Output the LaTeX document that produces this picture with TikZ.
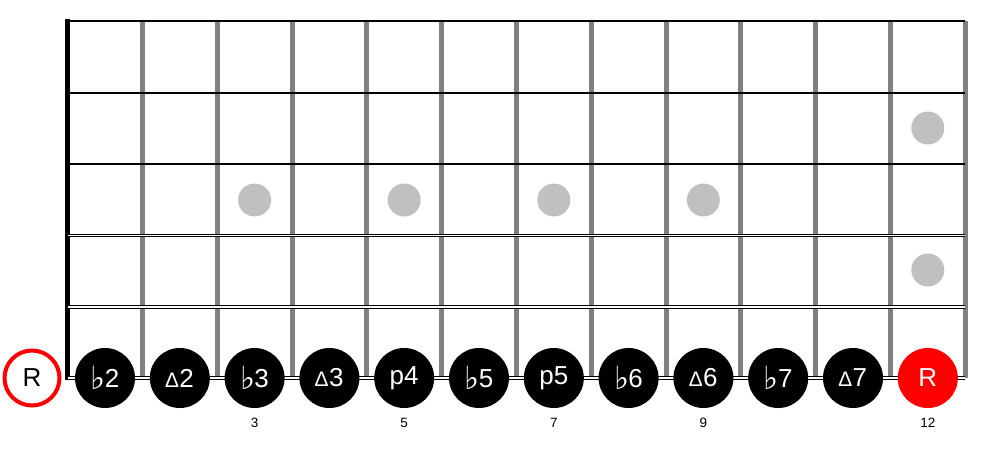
\documentclass[tikz,border=0pt]{standalone}
\usepackage{fontspec}
\setmainfont{Liberation Sans}
\newfontfamily\symfont{DejaVu Sans}
\definecolor{fretgrey}{HTML}{808080}
\definecolor{dotgrey}{HTML}{C0C0C0}
\definecolor{rootred}{HTML}{FF0000}
\tikzset{
  note/.style={circle,fill=black,text=white,minimum size=60pt,inner sep=0pt,font=\fontsize{26}{26}\selectfont},
  octave/.style={note,fill=rootred},
  openroot/.style={circle,draw=rootred,line width=4pt,fill=white,minimum size=55pt,inner sep=0pt,font=\fontsize{26}{26}\selectfont},
  inlay/.style={circle,fill=dotgrey,minimum size=33pt,inner sep=0pt},
  fretnum/.style={font=\fontsize{13.5}{13.5}\selectfont},
  fretwire/.style={fretgrey,line width=5pt},
  plainstring/.style={black,line width=1.2pt},
  woundstring/.style={black,double=white,line width=1pt,double distance=1.6pt}
}
\newcommand{\fl}{\raisebox{-2pt}{\symfont\fontsize{32}{32}\selectfont ♭}\hspace{-1pt}}
\newcommand{\mj}{{\fontsize{21}{21}\selectfont ∆}\hspace{1pt}}
\begin{document}
\begin{tikzpicture}[x=1pt,y=-1pt,line cap=butt]
\useasboundingbox (0,0) rectangle (985,452);
% frets
\foreach \i in {0,...,11}
  \draw[fretwire] ({142.5+74.8*\i},21) -- ({142.5+74.8*\i},378);
% nut
\draw[black,line width=5pt] (67.5,19) -- (67.5,380);
% strings
\draw[plainstring] (67.5,21) -- (965,21);
\draw[plainstring] (67.5,93) -- (965,93);
\draw[plainstring] (67.5,164) -- (965,164);
\draw[woundstring] (67.5,235.5) -- (965,235.5);
\draw[woundstring] (67.5,307) -- (965,307);
\draw[woundstring] (67.5,378) -- (965,378);
% inlays
\node[inlay] (dot3) at (254.6,200) {};
\node[inlay] (dot5) at (404.2,200) {};
\node[inlay] (dot7) at (553.8,200) {};
\node[inlay] (dot9) at (703.4,200) {};
\node[inlay] (dot12a) at (927.8,128) {};
\node[inlay] (dot12b) at (927.8,270) {};
% notes
\node[openroot] (root) at (32,378) {R};
\node[note] (flat2) at (105,378) {\fl2};
\node[note] (maj2) at (179.8,378) {\mj2};
\node[note] (flat3) at (254.6,378) {\fl3};
\node[note] (maj3) at (329.4,378) {\mj3};
\node[note] (perf4) at (404.2,378) {p4};
\node[note] (flat5) at (479,378) {\fl5};
\node[note] (perf5) at (553.8,378) {p5};
\node[note] (flat6) at (628.6,378) {\fl6};
\node[note] (maj6) at (703.4,378) {\mj6};
\node[note] (flat7) at (778.2,378) {\fl7};
\node[note] (maj7) at (853,378) {\mj7};
\node[octave] (oct) at (927.8,378) {R};
% fret numbers
\node[fretnum] (num3) at (254.6,423) {3};
\node[fretnum] (num5) at (404.2,423) {5};
\node[fretnum] (num7) at (553.8,423) {7};
\node[fretnum] (num9) at (703.4,423) {9};
\node[fretnum] (num12) at (927.8,423) {12};
\end{tikzpicture}
\end{document}
